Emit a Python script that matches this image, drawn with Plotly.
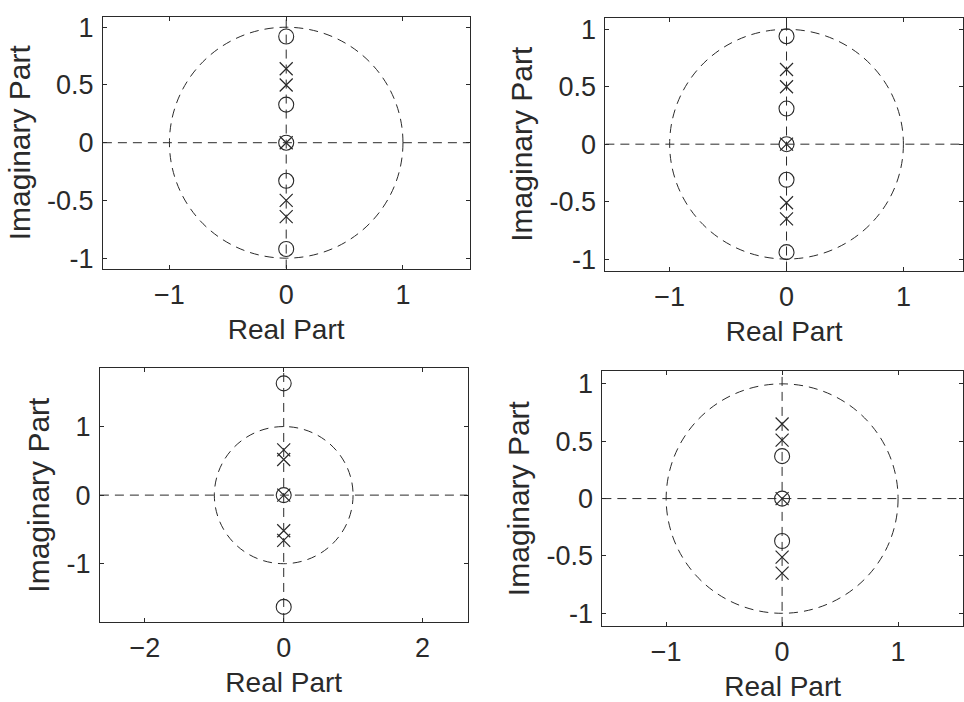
import plotly.graph_objects as go

# ---- data (imaginary parts; all real parts are 0) ----
p1_zero_im = [0.92, 0.33, 0.0, -0.33, -0.92]
p1_pole_im = [0.64, 0.50, 0.0, -0.50, -0.64]

p2_zero_im = [0.94, 0.31, 0.0, -0.31, -0.94]
p2_pole_im = [0.65, 0.50, 0.0, -0.51, -0.65]

p3_zero_im = [1.63, 0.0, -1.63]
p3_pole_im = [0.66, 0.52, 0.0, -0.52, -0.66]

p4_zero_im = [0.37, 0.0, -0.37]
p4_pole_im = [0.65, 0.51, 0.0, -0.51, -0.65]

zeros_im = [p1_zero_im, p2_zero_im, p3_zero_im, p4_zero_im]
poles_im = [p1_pole_im, p2_pole_im, p3_pole_im, p4_pole_im]

x_ticks = [[-1, 0, 1], [-1, 0, 1], [-2, 0, 2], [-1, 0, 1]]
y_ticks = [[-1, -0.5, 0, 0.5, 1], [-1, -0.5, 0, 0.5, 1], [-1, 0, 1], [-1, -0.5, 0, 0.5, 1]]
y_ticktext = [["-1", "-0.5", "0", "0.5", "1"], ["-1", "-0.5", "0", "0.5", "1"],
              ["-1", "0", "1"], ["-1", "-0.5", "0", "0.5", "1"]]

x_ranges = [[-1.57, 1.57], [-1.55, 1.51], [-2.65, 2.65], [-1.55, 1.56]]
y_ranges = [[-1.09, 1.09], [-1.10, 1.10], [-1.85, 1.85], [-1.11, 1.11]]

W, H = 964, 702
# panel boxes in pixels: (left, right, top, bottom)
boxes = [(103, 470, 13, 268), (606, 964, 14, 270), (100, 468, 369, 626), (603, 964, 372, 630)]

INK = "#2a2a2a"
FONT = "Liberation Sans, Arial, sans-serif"
DASH = "9px,6px"

fig = go.Figure()
layout = dict(
    width=W, height=H,
    margin=dict(l=0, r=0, t=0, b=0),
    paper_bgcolor="white", plot_bgcolor="white",
    showlegend=False,
    font=dict(family=FONT, color=INK),
    shapes=[],
)

for i in range(4):
    n = "" if i == 0 else str(i + 1)
    xa, ya = "x" + n, "y" + n
    l, r, t, b = boxes[i]
    # zeros
    fig.add_trace(go.Scatter(
        x=[0.0] * len(zeros_im[i]), y=zeros_im[i], mode="markers",
        xaxis=xa, yaxis=ya,
        marker=dict(symbol="circle-open", size=15, color=INK, line=dict(width=1.1, color=INK)),
    ))
    # poles
    fig.add_trace(go.Scatter(
        x=[0.0] * len(poles_im[i]), y=poles_im[i], mode="markers",
        xaxis=xa, yaxis=ya,
        marker=dict(symbol="x-thin-open", size=13, color=INK, line=dict(width=1.2, color=INK)),
    ))
    # unit circle and axis lines
    line = dict(color=INK, width=1, dash=DASH)
    layout["shapes"] += [
        dict(type="circle", xref=xa, yref=ya, x0=-1, x1=1, y0=-1, y1=1, line=line, layer="below"),
        dict(type="line", xref=xa, yref=ya, x0=x_ranges[i][0], x1=x_ranges[i][1], y0=0, y1=0,
             line=line, layer="below"),
        dict(type="line", xref=xa, yref=ya, x0=0, x1=0, y0=y_ranges[i][0], y1=y_ranges[i][1],
             line=line, layer="below"),
    ]
    layout["xaxis" + n] = dict(
        domain=[l / W, r / W], anchor=ya, range=x_ranges[i],
        showline=True, linecolor=INK, linewidth=1, mirror="ticks",
        ticks="inside", ticklen=4, tickcolor=INK, tickvals=x_ticks[i],
        showgrid=False, zeroline=False,
        tickfont=dict(size=27, family=FONT, color=INK), ticklabelstandoff=2,
        title=dict(text="Real Part", font=dict(size=28, family=FONT, color=INK), standoff=10),
    )
    layout["yaxis" + n] = dict(
        domain=[1 - b / H, 1 - t / H], anchor=xa, range=y_ranges[i],
        showline=True, linecolor=INK, linewidth=1, mirror="ticks",
        ticks="inside", ticklen=4, tickcolor=INK,
        tickvals=y_ticks[i], ticktext=y_ticktext[i],
        showgrid=False, zeroline=False,
        tickfont=dict(size=27, family=FONT, color=INK), ticklabelstandoff=3,
        title=dict(text="Imaginary Part", font=dict(size=30, family=FONT, color=INK), standoff=7),
    )

fig.update_layout(**layout)
fig.write_html("out.html", config={"displayModeBar": False},
               post_script="document.body.style.margin='0';document.body.style.overflow='hidden';")
